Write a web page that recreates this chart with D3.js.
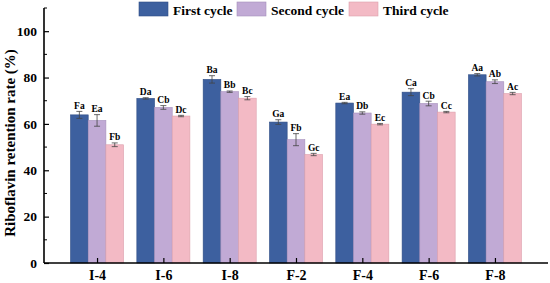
<!DOCTYPE html>
<html>
<head>
<meta charset="utf-8">
<script src="https://cdn.jsdelivr.net/npm/d3@7"></script>
<style>
  body { margin: 0; background: #fff; }
  svg { display: block; font-family: "Liberation Serif", "Times New Roman", serif; font-weight: bold; }
</style>
</head>
<body>
<svg id="chart" width="550" height="283"></svg>
<script>
var categories = ['I-4', 'I-6', 'I-8', 'F-2', 'F-4', 'F-6', 'F-8'];
var seriesNames = ['First cycle', 'Second cycle', 'Third cycle'];

var firstCycle  = [63.9, 71.0, 79.2, 60.8, 69.0, 73.7, 81.2];
var secondCycle = [61.5, 67.1, 73.9, 53.2, 64.7, 68.8, 78.2];
var thirdCycle  = [51.0, 63.4, 71.1, 46.8, 59.9, 65.1, 73.1];

var firstErr  = [1.5, 0.3, 1.6, 1.0, 0.3, 1.5, 0.5];
var secondErr = [2.5, 0.8, 0.3, 2.6, 0.5, 1.0, 0.8];
var thirdErr  = [0.8, 0.3, 0.7, 0.5, 0.3, 0.3, 0.5];

var firstLetters  = ['Fa', 'Da', 'Ba', 'Ga', 'Ea', 'Ca', 'Aa'];
var secondLetters = ['Ea', 'Cb', 'Bb', 'Fb', 'Db', 'Cb', 'Ab'];
var thirdLetters  = ['Fb', 'Dc', 'Bc', 'Gc', 'Ec', 'Cc', 'Ac'];

var yTicks = [0, 20, 40, 60, 80, 100];

var fills   = ['#3d609f', '#c1aad5', '#f3bac5'];
var strokes = ['#2f4d85', '#a58fbb', '#dca0ac'];

var series = [
  {name: seriesNames[0], values: firstCycle,  err: firstErr,  letters: firstLetters},
  {name: seriesNames[1], values: secondCycle, err: secondErr, letters: secondLetters},
  {name: seriesNames[2], values: thirdCycle,  err: thirdErr,  letters: thirdLetters}
];

var svg = d3.select('#chart');

var plotLeft = 44, plotRight = 548, plotTop = 8, plotBottom = 263;

// x as a linear scale on category index, like origin does it
var x = d3.scaleLinear().domain([0.2, 7.8]).range([plotLeft, plotRight]);
var y = d3.scaleLinear().domain([0, 110]).range([plotBottom, plotTop]);

var step = x(2) - x(1);
var barW = step * 0.8 / 3;

series.forEach(function(s, si) {
  var g = svg.append('g');
  var offset = (si - 1) * barW;

  g.selectAll('rect')
    .data(s.values).enter()
    .append('rect')
    .attr('x', function(d, i) { return x(i + 1) + offset - barW / 2; })
    .attr('y', function(d) { return y(d); })
    .attr('width', barW)
    .attr('height', function(d) { return y(0) - y(d); })
    .attr('fill', fills[si])
    .attr('stroke', strokes[si])
    .attr('stroke-width', 0.6);

  // error bars
  var eb = g.selectAll('.err')
    .data(s.values).enter()
    .append('g');
  eb.append('line')
    .attr('x1', function(d, i) { return x(i + 1) + offset; })
    .attr('x2', function(d, i) { return x(i + 1) + offset; })
    .attr('y1', function(d, i) { return y(d - s.err[i]); })
    .attr('y2', function(d, i) { return y(d + s.err[i]); });
  eb.append('line')
    .attr('x1', function(d, i) { return x(i + 1) + offset - 3; })
    .attr('x2', function(d, i) { return x(i + 1) + offset + 3; })
    .attr('y1', function(d, i) { return y(d + s.err[i]); })
    .attr('y2', function(d, i) { return y(d + s.err[i]); });
  eb.append('line')
    .attr('x1', function(d, i) { return x(i + 1) + offset - 3; })
    .attr('x2', function(d, i) { return x(i + 1) + offset + 3; })
    .attr('y1', function(d, i) { return y(d - s.err[i]); })
    .attr('y2', function(d, i) { return y(d - s.err[i]); });
  eb.selectAll('line').attr('stroke', '#444').attr('stroke-width', 0.8);

  // significance letters
  g.selectAll('.lbl')
    .data(s.values).enter()
    .append('text')
    .attr('x', function(d, i) { return x(i + 1) + offset; })
    .attr('y', function(d, i) { return y(d + s.err[i]) - 2.5; })
    .attr('text-anchor', 'middle')
    .style('font-size', '9.5px')
    .text(function(d, i) { return s.letters[i]; });
});

// y axis
var yAxis = d3.axisLeft(y).tickValues(yTicks).tickSize(-5).tickPadding(7);
var yg = svg.append('g')
  .attr('transform', 'translate(' + plotLeft + ',0)')
  .call(yAxis)
  .attr('font-family', null).attr('font-size', null);
yg.select('.domain').attr('d', 'M0,' + plotTop + 'V' + plotBottom).attr('stroke', '#000').attr('stroke-width', 1.6);
yg.selectAll('.tick line').attr('stroke', '#000').attr('stroke-width', 1.2);
yg.selectAll('.tick text').style('font-size', '13.5px');

// minor y ticks
svg.append('g').selectAll('line')
  .data([10, 30, 50, 70, 90, 110]).enter()
  .append('line')
  .attr('x1', plotLeft).attr('x2', plotLeft + 3)
  .attr('y1', function(d) { return y(d); })
  .attr('y2', function(d) { return y(d); })
  .attr('stroke', '#000').attr('stroke-width', 1);

// x axis
var xAxis = d3.axisBottom(x).tickValues(d3.range(1, categories.length + 1))
  .tickFormat(function(d) { return categories[d - 1]; })
  .tickSize(-5).tickPadding(7);
var xg = svg.append('g')
  .attr('transform', 'translate(0,' + plotBottom + ')')
  .call(xAxis)
  .attr('font-family', null).attr('font-size', null);
xg.select('.domain').attr('d', 'M' + plotLeft + ',0H' + plotRight).attr('stroke', '#000').attr('stroke-width', 1.6);
xg.selectAll('.tick line').attr('stroke', '#000').attr('stroke-width', 1.2);
xg.selectAll('.tick text').style('font-size', '14px');

// y title
svg.append('text')
  .attr('transform', 'translate(15,' + 143 + ')rotate(-90)')
  .attr('text-anchor', 'middle')
  .style('font-size', '15px')
  .text('Riboflavin retention rate (%)');

// legend
var legendX = [139, 237, 349];
var lg = svg.append('g').selectAll('g')
  .data(series).enter()
  .append('g')
  .attr('transform', function(d, i) { return 'translate(' + legendX[i] + ',2)'; });
lg.append('rect')
  .attr('width', 29).attr('height', 14)
  .attr('fill', function(d, i) { return fills[i]; })
  .attr('stroke', function(d, i) { return strokes[i]; })
  .attr('stroke-width', 0.6);
lg.append('text')
  .attr('x', 34).attr('y', 12.5)
  .style('font-size', '13.5px')
  .text(function(d) { return d.name; });
</script>
</body>
</html>
